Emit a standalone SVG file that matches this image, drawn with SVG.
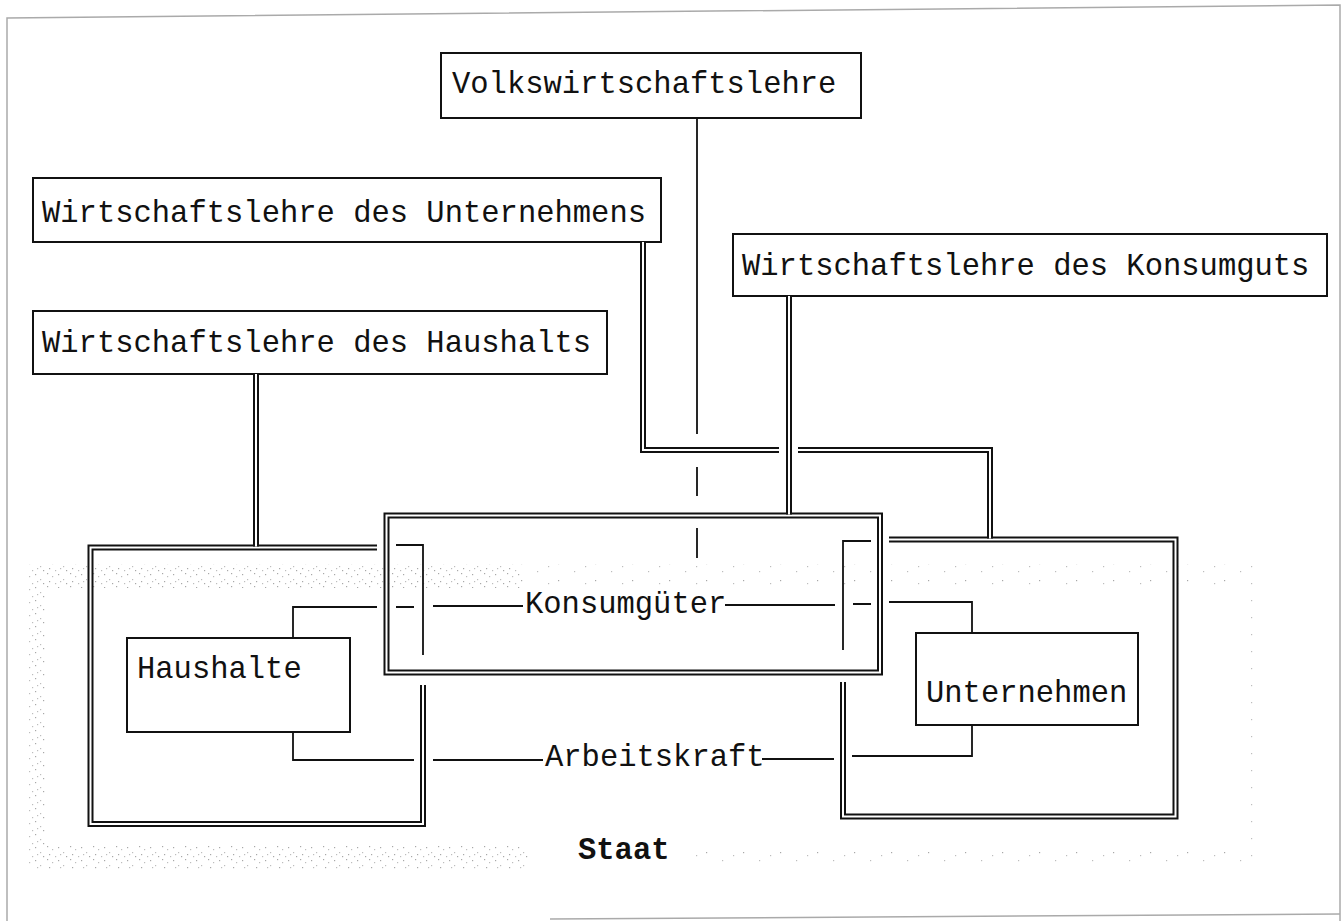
<svg xmlns="http://www.w3.org/2000/svg" width="1343" height="921" viewBox="0 0 1343 921">
<style>
.t{font-family:"Liberation Mono","Courier New",monospace;font-size:30.5px;fill:#111}
.st{font-family:"Liberation Mono","Courier New",monospace;font-size:30.5px;font-weight:bold;fill:#111}
.b{fill:none;stroke:#111;stroke-width:2}
.s{fill:none;stroke:#111;stroke-width:1.8}
.dk{fill:none;stroke:#111;stroke-width:6;stroke-linejoin:miter;stroke-linecap:butt}
.dw{fill:none;stroke:#fff;stroke-width:2;stroke-linejoin:miter;stroke-linecap:butt}
.fr{fill:none;stroke:#aaa;stroke-width:1.5}
.d1{fill:#a8a8a8}
.d2{fill:#bdbdbd}
</style>
<defs>
<pattern id="pd" width="23" height="13" patternUnits="userSpaceOnUse">
<rect class="d1" x="1" y="1" width="1.2" height="1.2"/>
<rect class="d2" x="6" y="4" width="1.2" height="1.2"/>
<rect class="d1" x="12" y="2" width="1.2" height="1.2"/>
<rect class="d2" x="17" y="7" width="1.2" height="1.2"/>
<rect class="d1" x="3" y="9" width="1.2" height="1.2"/>
<rect class="d2" x="9" y="11" width="1.2" height="1.2"/>
<rect class="d1" x="20" y="11" width="1.2" height="1.2"/>
<rect class="d2" x="14" y="9" width="1.2" height="1.2"/>
</pattern>
<pattern id="ps" width="37" height="17" patternUnits="userSpaceOnUse">
<rect class="d1" x="3" y="2" width="1.2" height="1.2"/>
<rect class="d2" x="19" y="10" width="1.2" height="1.2"/>
<rect class="d2" x="30" y="5" width="1.2" height="1.2"/>
</pattern>
<path id="g-haus" d="M377,547.5 H90.5 V824 H423 V685"/>
<path id="g-unt" d="M889,539.5 H1175.5 V816.5 H843 V682"/>
<rect id="g-kons" x="386.5" y="515.5" width="493.5" height="157"/>
<path id="c-haus" d="M256,374 V546.5"/>
<path id="c-unt" d="M643,242 V450 H779 M798,450 H990 V538.5"/>
<path id="c-kons" d="M789,296 V514.5"/>
</defs>
<rect width="1343" height="921" fill="#fff"/>

<g id="frame">
<path class="fr" d="M7,921 V18 L1340,5 V921"/>
<path class="fr" d="M550,919 L1340,914"/>
</g>

<g id="n-staat">
<rect x="28" y="564" width="492" height="24" fill="url(#pd)"/>
<rect x="520" y="564" width="740" height="24" fill="url(#ps)"/>
<rect x="28" y="588" width="19" height="257" fill="url(#pd)"/>
<rect x="1243" y="588" width="18" height="257" fill="url(#ps)"/>
<rect x="28" y="845" width="500" height="24" fill="url(#pd)"/>
<rect x="690" y="845" width="570" height="24" fill="url(#ps)"/>
<text class="st" x="578" y="859">Staat</text>
</g>

<g id="n-volkswirtschaftslehre">
<rect class="b" x="441" y="53" width="420" height="65"/>
<text class="t" x="452" y="93">Volkswirtschaftslehre</text>
</g>
<g id="n-wl-unternehmen">
<rect class="b" x="33" y="178" width="628" height="64"/>
<text class="t" x="42" y="222">Wirtschaftslehre des Unternehmens</text>
</g>
<g id="n-wl-konsumgut">
<rect class="b" x="733" y="234" width="594" height="62"/>
<text class="t" x="742" y="275">Wirtschaftslehre des Konsumguts</text>
</g>
<g id="n-wl-haushalt">
<rect class="b" x="33" y="311" width="574" height="63"/>
<text class="t" x="42" y="352">Wirtschaftslehre des Haushalts</text>
</g>

<g id="n-haushalte-sektor">
<use href="#g-haus" class="dk"/>
<use href="#g-haus" class="dw"/>
<path class="s" d="M396,545 H423 V655"/>
</g>
<g id="n-unternehmen-sektor">
<use href="#g-unt" class="dk"/>
<use href="#g-unt" class="dw"/>
<path class="s" d="M871,541 H843 V650"/>
</g>
<g id="n-konsumgueter-markt">
<use href="#g-kons" class="dk"/>
<use href="#g-kons" class="dw"/>
</g>

<g id="n-haushalte">
<rect class="b" x="127" y="638" width="223" height="94"/>
<text class="t" x="137" y="678">Haushalte</text>
</g>
<g id="n-unternehmen">
<rect class="b" x="916" y="633" width="222" height="92"/>
<text class="t" x="926" y="702">Unternehmen</text>
</g>

<g id="connectors">
<use href="#c-haus" class="dk"/>
<use href="#c-unt" class="dk"/>
<use href="#c-kons" class="dk"/>
<use href="#c-haus" class="dw"/>
<use href="#c-unt" class="dw"/>
<use href="#c-kons" class="dw"/>
<path class="s" d="M697,118 V434 M697,467 V496 M697,528 V558"/>
<path class="s" d="M293,638 V607 H377 M396,607 H414 M433,606 H523 M725,605 H835 M853,604 H871 M889,602 H972 V633"/>
<text class="t" x="525" y="613">Konsumgüter</text>
<path class="s" d="M293,732 V760 H414 M433,760 H543 M762,759 H834 M852,756 H972 V725"/>
<text class="t" x="545" y="766">Arbeitskraft</text>
</g>
</svg>
